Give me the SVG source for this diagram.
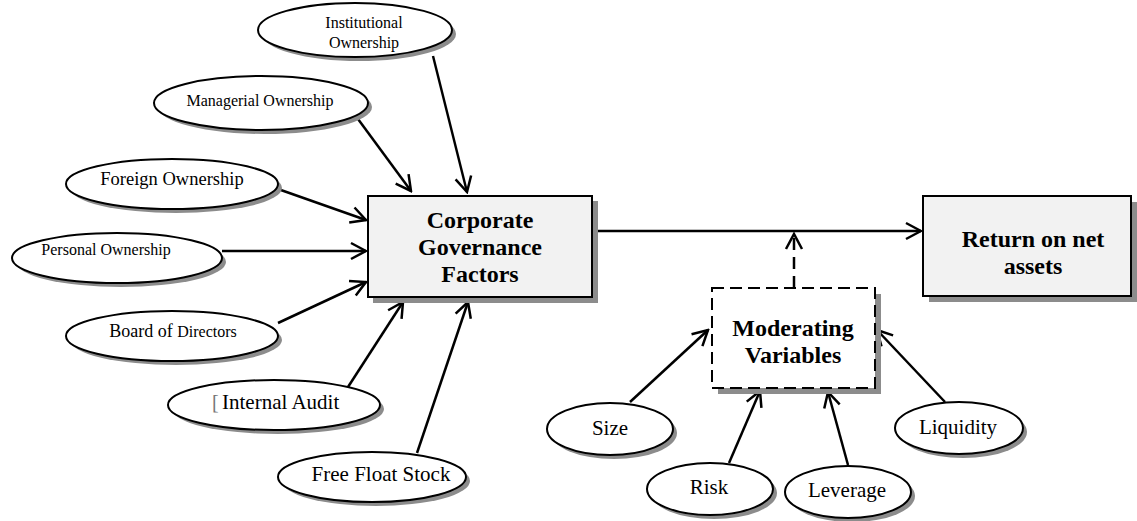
<svg xmlns="http://www.w3.org/2000/svg" width="1137" height="521" viewBox="0 0 1137 521">
  <style>
    .oval { fill: #ffffff; stroke: #000000; stroke-width: 2; }
    .shadow { fill: #8c8c8c; stroke: none; }
    .box { fill: #f2f2f2; stroke: #000000; stroke-width: 2; }
    .dbox { fill: #ffffff; stroke: #000000; stroke-width: 2; stroke-dasharray: 12 6; }
    .lbl { font-family: "Liberation Serif", "Times New Roman", serif; fill: #000000; text-anchor: middle; }
    .bold { font-weight: bold; font-size: 24px; }
    .link { stroke: #000000; stroke-width: 2.5; fill: none; marker-end: url(#open); }
    .dash { stroke-dasharray: 12 7; }
  </style>
  <defs>
    <marker id="open" viewBox="0 0 20 20" refX="18" refY="10" markerWidth="20" markerHeight="20" markerUnits="userSpaceOnUse" orient="auto">
      <path d="M3,2 L18,10 L3,18" fill="none" stroke="#000000" stroke-width="2.5" stroke-linejoin="miter"/>
    </marker>
  </defs>

  <!-- connectors -->
  <g id="connectors">
    <line class="link" x1="433" y1="56" x2="467" y2="192"/>
    <line class="link" x1="358" y1="119" x2="411" y2="191"/>
    <line class="link" x1="278" y1="189" x2="366" y2="220"/>
    <line class="link" x1="222" y1="251" x2="366" y2="251"/>
    <line class="link" x1="278" y1="323" x2="366" y2="282"/>
    <line class="link" x1="348" y1="387" x2="403" y2="302"/>
    <line class="link" x1="417" y1="453" x2="468" y2="302"/>
    <line class="link" x1="592" y1="231" x2="921" y2="231"/>
    <line class="link dash" x1="794" y1="288" x2="794" y2="234"/>
    <line class="link" x1="630" y1="402" x2="708" y2="330"/>
    <line class="link" x1="729" y1="463" x2="760" y2="391"/>
    <line class="link" x1="848" y1="465" x2="828" y2="392"/>
    <line class="link" x1="945" y1="402" x2="877" y2="330"/>
  </g>

  <!-- governance factors -->
  <g id="institutional">
    <ellipse class="shadow" cx="359" cy="34" rx="97" ry="27"/>
    <ellipse class="oval" cx="355" cy="30" rx="97" ry="27"/>
    <text class="lbl" x="364" y="28" font-size="16">Institutional</text>
    <text class="lbl" x="364" y="48" font-size="16">Ownership</text>
  </g>
  <g id="managerial">
    <ellipse class="shadow" cx="265" cy="107" rx="107" ry="27"/>
    <ellipse class="oval" cx="261" cy="103" rx="107" ry="27"/>
    <text class="lbl" x="260" y="106" font-size="16">Managerial Ownership</text>
  </g>
  <g id="foreign">
    <ellipse class="shadow" cx="176" cy="188" rx="106" ry="25"/>
    <ellipse class="oval" cx="172" cy="184" rx="106" ry="25"/>
    <text class="lbl" x="172" y="185" font-size="18.5">Foreign Ownership</text>
  </g>
  <g id="personal">
    <ellipse class="shadow" cx="121" cy="262" rx="105" ry="25"/>
    <ellipse class="oval" cx="117" cy="258" rx="105" ry="25"/>
    <text class="lbl" x="106" y="255" font-size="16">Personal Ownership</text>
  </g>
  <g id="board">
    <ellipse class="shadow" cx="176" cy="340" rx="106" ry="25"/>
    <ellipse class="oval" cx="172" cy="336" rx="106" ry="25"/>
    <text class="lbl" x="173" y="337"><tspan font-size="18">Board of </tspan><tspan font-size="16">Directors</tspan></text>
  </g>
  <g id="audit">
    <ellipse class="shadow" cx="278" cy="409" rx="106" ry="25"/>
    <ellipse class="oval" cx="274" cy="405" rx="106" ry="25"/>
    <text x="212" y="409" font-family="Liberation Serif, serif" font-size="20" fill="#777777">[</text>
    <text x="222" y="409" font-family="Liberation Serif, serif" font-size="21" fill="#000000">Internal Audit</text>
  </g>
  <g id="freefloat">
    <ellipse class="shadow" cx="376" cy="481" rx="94" ry="25"/>
    <ellipse class="oval" cx="372" cy="477" rx="94" ry="25"/>
    <text class="lbl" x="381" y="481" font-size="21">Free Float Stock</text>
  </g>

  <!-- central factor box -->
  <g id="governance">
    <rect class="shadow" x="373" y="201" width="225" height="102"/>
    <rect class="box" x="368" y="196" width="224" height="101"/>
    <text class="lbl bold" x="480" y="228">Corporate</text>
    <text class="lbl bold" x="480" y="255">Governance</text>
    <text class="lbl bold" x="480" y="282">Factors</text>
  </g>

  <!-- outcome box -->
  <g id="return">
    <rect class="shadow" x="929" y="202" width="208" height="100"/>
    <rect class="box" x="923" y="196" width="208" height="100"/>
    <text class="lbl bold" x="1033" y="247">Return on net</text>
    <text class="lbl bold" x="1033" y="274">assets</text>
  </g>

  <!-- moderators -->
  <g id="moderating">
    <rect class="shadow" x="718" y="294" width="163" height="100"/>
    <rect class="dbox" x="712" y="288" width="163" height="100"/>
    <text class="lbl bold" x="793" y="336">Moderating</text>
    <text class="lbl bold" x="793" y="363">Variables</text>
  </g>
  <g id="size">
    <ellipse class="shadow" cx="614" cy="433" rx="63" ry="26"/>
    <ellipse class="oval" cx="610" cy="429" rx="63" ry="26"/>
    <text class="lbl" x="610" y="435" font-size="21">Size</text>
  </g>
  <g id="risk">
    <ellipse class="shadow" cx="714" cy="493" rx="63" ry="26"/>
    <ellipse class="oval" cx="710" cy="489" rx="63" ry="26"/>
    <text class="lbl" x="709" y="494" font-size="21">Risk</text>
  </g>
  <g id="leverage">
    <ellipse class="shadow" cx="852" cy="496" rx="63" ry="26"/>
    <ellipse class="oval" cx="848" cy="492" rx="63" ry="26"/>
    <text class="lbl" x="847" y="497" font-size="21">Leverage</text>
  </g>
  <g id="liquidity">
    <ellipse class="shadow" cx="963" cy="432" rx="64" ry="26"/>
    <ellipse class="oval" cx="959" cy="428" rx="64" ry="26"/>
    <text class="lbl" x="958" y="434" font-size="21">Liquidity</text>
  </g>
</svg>
